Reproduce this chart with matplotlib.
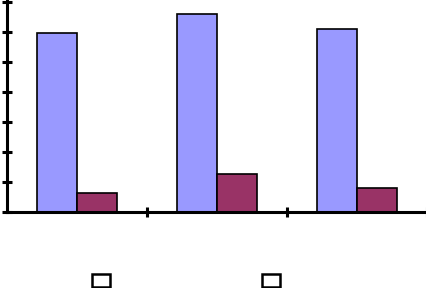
import matplotlib
matplotlib.use("Agg")
import matplotlib.pyplot as plt
from matplotlib.patches import Rectangle
import numpy as np

categories = ["", "", ""]
series_a = [5.97, 6.6, 6.1]
series_b = [0.63, 1.27, 0.8]
yticks = [0, 1, 2, 3, 4, 5, 6, 7]

W, H = 427, 288
fig = plt.figure(figsize=(W / 100, H / 100), dpi=100)
ax = fig.add_axes([7 / W, (H - 212) / H, (W - 7) / W, 212 / H])

x = np.arange(len(categories))
bw = 40 / 140
ax.bar(x - bw / 2, series_a, width=bw, color="#9999FF", edgecolor="black", linewidth=1.2, zorder=3)
ax.bar(x + bw / 2, series_b, width=bw, color="#993366", edgecolor="black", linewidth=1.2, zorder=3)

ax.set_xlim(-0.5, 2.5)
ax.set_ylim(0, 212 / 30)
ax.set_yticks(yticks)
ax.set_yticklabels([])
ax.set_xticks([0.5, 1.5, 2.5])
ax.set_xticklabels([])
for s in ["top", "right"]:
    ax.spines[s].set_visible(False)
for s in ["left", "bottom"]:
    ax.spines[s].set_linewidth(2.2)
    ax.spines[s].set_zorder(4)
ax.tick_params(axis="both", direction="inout", length=7, width=2.2)

# legend boxes (empty labels)
for lx in (92, 262):
    fig.add_artist(Rectangle((lx / W, (H - 287) / H), 18 / W, 13 / H,
                             transform=fig.transFigure, facecolor="white",
                             edgecolor="black", linewidth=1.8))

fig.savefig("out.png", dpi=100)
